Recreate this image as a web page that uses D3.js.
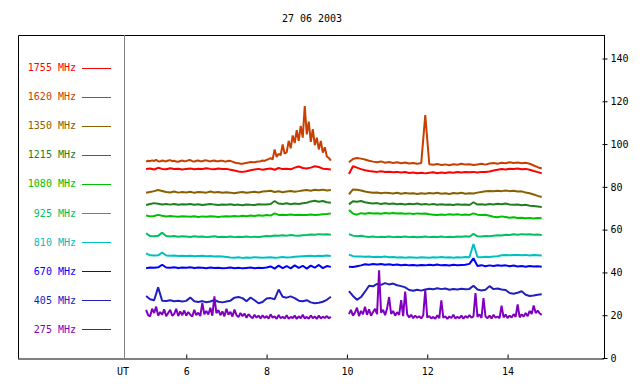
<!DOCTYPE html>
<html><head><meta charset="utf-8">
<script src="https://cdn.jsdelivr.net/npm/d3@7"></script>
<style>
body{margin:0;background:#fff}
svg{display:block}
text{font-family:"DejaVu Sans Mono",monospace;font-size:10px;fill:#000}
</style>
</head><body><svg id="c" width="640" height="384"></svg>
<script>
const title = "27 06 2003";
const seriesNames = ["1755 MHz","1620 MHz","1350 MHz","1215 MHz","1080 MHz","925 MHz","810 MHz","670 MHz","405 MHz","275 MHz"];
const seriesColors = ["#ff0000","#c84000","#886000","#208020","#00c000","#00c060","#00c0c0","#0000ff","#2020c0","#8000c0"];
const xTicks = [6,8,10,12,14];
const yTicks = [0,20,40,60,80,100,120,140];
// observation windows (UT hours); samples are evenly spaced inside each window
const seg1Range = [5.0, 9.6], seg2Range = [10.05, 14.85];

// 1755 MHz
const v1755a = [88.3,88.6,88.1,88.9,88.4,88.2,88.7,88.3,88.5,88.1, 88.4,88.6,88.2,88.5,88.3,88.7,88.4,88.2,88.6,88.3, 88.4,88.0,87.6,87.2,87.0,87.3,87.8,88.1,88.4,88.0, 88.3,88.6,88.0,88.8,88.3,88.5,88.2,89.0,89.5,88.8, 88.6,89.0,89.6,89.3,88.5,88.3,88.1];
const v1755b = [86.0,89.6,89.0,88.3,87.8,87.4,87.2,87.0,87.3,86.9, 87.1,86.8,87.0,86.7,86.9,86.5,86.7,86.4,86.6,86.3, 86.6,86.8,86.4,86.7,86.5,86.8,86.6,86.9,86.7,86.9, 86.8,87.0,86.7,87.0,87.0,87.2,87.6,88.0,88.3,88.1, 88.5,88.3,88.6,88.2,88.4,88.0,87.4,86.9,86.4];
// 1620 MHz
const v1620a = [91.8,92.2,92.0,92.4,92.1,92.6,92.0,91.9,92.3,92.1, 91.9,92.3,92.5,92.0,92.2,91.8,91.7,92.1,92.3,92.0, 92.1,92.4,92.5,92.0,91.8,92.2,92.3,92.0,92.0,92.3, 92.4,92.1,91.9,92.2,92.3,92.0,92.0,92.2,92.2,91.9, 91.9,92.2,92.1,91.8,91.4,91.2,91.0,90.8,90.8,91.0, 91.2,91.4,91.6,91.5,91.5,91.7,91.8,92.0,92.3,92.1, 92.6,93.0,93.4,92.8,97.5,94.0,95.5,94.8,99.8,95.5, 96.2,101.5,98.0,104.0,100.5,106.5,101.5,108.5,103.0,117.8, 104.5,110.5,101.0,107.0,99.5,103.0,97.5,101.5,96.0,98.5, 94.2,93.5,92.3];
const v1620b = [91.5,93.0,93.5,93.2,92.8,92.2,91.8,91.5,91.9,91.3, 91.6,91.2,91.5,91.0,91.4,90.9,91.2,90.8,91.1,113.5, 90.6,90.3,90.7,90.2,90.5,90.1,90.6,90.3,90.8,90.4, 90.6,90.2,90.5,90.8,90.4,90.9,91.2,90.8,91.3,91.0, 91.5,91.2,91.4,91.0,91.3,90.8,90.0,89.2,88.6];
// 1350 MHz
const v1350a = [77.2,77.6,78.0,78.5,78.1,77.6,77.4,77.8,77.3,77.6, 77.4,77.7,77.2,77.6,77.5,77.3,77.8,77.4,77.6,77.2, 77.5,77.3,77.0,77.4,77.6,77.2,77.5,77.7,77.4,77.8, 78.0,78.2,77.6,77.9,77.5,77.8,78.1,77.7,78.0,78.3, 78.5,78.2,78.6,78.4,78.7,78.3,78.5];
const v1350b = [76.5,78.8,78.6,78.3,77.8,77.5,77.2,77.4,77.0,77.3, 77.1,76.9,77.2,76.8,77.1,76.9,77.0,76.7,77.0,76.8, 77.1,76.9,77.2,76.8,77.0,76.7,77.1,76.9,77.2,76.8, 77.0,76.9,77.3,77.6,77.9,78.1,77.9,78.2,78.0,78.3, 78.0,78.2,77.8,77.9,77.4,77.0,76.4,75.8,75.3];
// 1215 MHz
const v1215a = [71.5,72.0,72.4,72.1,71.8,72.0,71.7,72.0,71.6,71.9, 71.8,72.0,71.6,71.9,71.5,71.8,72.0,71.7,71.5,71.8, 71.6,71.9,71.5,71.7,71.4,71.8,71.6,71.5,71.9,71.7, 71.8,72.0,73.4,72.2,72.0,72.3,71.9,72.2,72.0,72.3, 72.6,73.2,73.5,73.0,73.4,72.8,72.6];
const v1215b = [71.8,73.3,73.0,73.4,72.8,72.5,72.2,72.4,72.0,72.3, 72.0,72.2,71.9,72.1,71.8,72.1,71.9,72.2,71.8,72.0, 71.7,72.0,71.6,71.9,71.6,71.8,71.5,71.9,71.6,71.8, 71.5,72.8,71.7,71.9,71.6,72.0,71.8,72.1,71.9,72.2, 71.8,71.6,71.8,71.4,71.6,71.2,71.0,70.8,70.6];
// 1080 MHz
const v1080a = [66.6,66.2,66.4,66.9,66.5,66.1,66.4,66.2,66.0,66.3, 66.2,66.0,66.3,65.9,66.2,66.0,66.3,66.1,65.9,66.2, 66.3,66.1,66.4,66.2,66.5,66.3,66.6,66.4,66.7,66.5, 66.8,66.6,67.6,66.9,67.0,66.8,67.1,66.9,67.0,66.8, 66.9,67.1,66.8,67.0,67.2,67.3,67.6];
const v1080b = [69.2,67.5,67.0,67.7,67.4,67.8,67.5,67.7,67.4,67.8, 67.6,67.8,67.5,67.7,67.4,67.6,67.3,67.6,67.4,67.5, 67.2,67.0,66.8,67.1,66.9,67.2,67.0,67.2,66.9,67.1, 66.9,67.6,67.0,66.8,67.0,66.5,66.0,65.8,66.2,65.9, 65.6,65.8,65.4,65.6,65.3,65.5,65.2,65.4,65.3];
// 925 MHz
const v925a = [58.3,57.0,56.9,57.1,58.6,57.0,56.8,57.0,56.7,56.9, 56.8,56.6,56.9,56.7,56.8,56.5,56.7,56.9,56.6,56.7, 56.6,56.8,56.5,56.7,56.6,56.8,56.5,56.7,56.6,56.8, 57.0,56.9,57.3,57.1,57.4,57.2,57.5,57.3,57.2,57.4, 57.5,57.7,57.6,57.9,57.7,57.8,57.6];
const v925b = [57.9,57.2,56.9,57.1,56.8,56.6,56.8,56.5,56.7,56.6, 56.8,56.5,56.7,56.6,56.8,56.5,56.7,56.4,56.6,56.8, 56.5,56.7,56.6,56.8,56.5,56.7,56.6,56.8,56.7,56.9, 56.7,58.0,56.9,56.8,57.0,56.9,57.2,57.4,57.3,57.6, 57.5,57.8,57.6,57.9,57.7,57.8,57.6,57.7,57.5];
// 810 MHz
const v810a = [48.9,48.0,47.9,48.0,49.3,47.9,47.8,47.9,47.7,47.8, 47.7,47.8,47.6,47.7,47.8,47.6,47.7,47.5,47.6,47.4, 47.2,47.0,46.9,47.1,46.8,47.0,46.9,47.1,47.0,46.9, 47.0,47.1,46.9,47.0,47.2,47.0,47.1,47.3,47.5,47.6, 47.7,47.8,47.6,47.8,47.7,47.9,47.7];
const v810b = [48.3,47.6,47.4,47.5,47.3,47.4,47.2,47.3,47.2,47.4, 47.1,47.2,47.0,47.1,46.9,47.1,47.0,46.9,47.1,47.0, 46.9,47.1,47.0,47.2,47.0,47.1,46.9,47.1,47.0,47.2, 47.1,53.3,47.2,47.1,47.3,47.2,47.4,47.6,48.0,48.1, 48.0,48.2,48.1,48.0,48.2,47.9,48.1,48.0,47.9];
// 670 MHz
const v670a = [42.0,42.3,42.2,42.4,43.6,42.3,42.2,42.4,42.1,42.3, 42.2,42.4,42.1,42.3,42.2,42.0,42.3,42.1,42.2,42.0, 42.1,42.3,42.0,42.2,41.9,42.1,42.3,42.0,42.2,42.1, 42.3,42.8,41.8,43.2,42.0,43.0,41.9,43.3,42.1,43.1, 41.8,43.2,42.2,43.5,42.0,43.0,42.6];
const v670b = [42.7,42.5,42.9,43.3,43.8,43.6,43.9,43.7,43.9,43.6, 43.8,43.5,43.7,43.4,43.6,43.3,43.5,43.2,43.5,43.3, 43.6,43.4,43.7,43.3,43.5,43.2,43.6,43.4,43.5,43.6, 44.0,46.6,43.0,43.4,42.9,43.3,43.0,43.4,43.1,43.3, 42.9,43.2,42.8,43.0,42.7,43.0,42.8,42.9,42.7];
// 405 MHz
const v405a = [29.0,27.5,27.0,33.0,26.8,26.6,27.0,26.5,26.8,26.4, 26.7,28.3,26.5,26.2,26.6,26.1,26.4,27.2,26.3,26.0, 26.4,26.8,28.2,28.5,28.0,26.5,28.3,27.0,25.6,26.2, 27.8,28.0,27.5,32.0,28.6,28.2,28.8,28.0,26.8,26.5, 27.0,26.0,25.6,25.8,26.3,27.2,28.6];
const v405b = [31.3,29.0,27.2,28.5,31.0,33.8,33.5,34.6,34.2,35.0, 34.4,34.8,34.0,33.6,33.0,31.8,31.4,31.9,31.5,32.0, 32.4,32.1,32.6,32.2,32.5,31.9,32.3,32.0,32.4,32.1, 32.3,33.8,32.0,31.6,31.9,33.6,32.2,32.5,32.0,31.8, 30.4,30.0,30.5,31.2,29.6,29.0,29.2,29.6,29.8];
// 275 MHz
const v275a = [22.5,20.0,19.5,23.0,21.0,24.0,19.8,21.5,20.2,22.8, 19.5,21.0,22.5,19.8,20.6,23.0,19.6,21.8,20.0,22.2, 19.8,21.5,20.2,19.4,22.5,20.0,21.2,19.6,25.8,20.4, 22.0,20.3,23.5,19.8,28.8,21.0,22.4,20.0,21.8,19.5, 23.0,20.2,21.6,19.4,22.6,20.0,19.2,21.0,19.6,20.8, 18.8,20.5,19.4,18.6,20.2,18.9,19.8,18.5,20.0,18.7, 19.6,18.4,20.4,18.8,19.5,18.3,20.1,18.6,19.3,18.5, 20.0,18.4,19.2,18.7,19.8,18.3,19.5,18.6,20.2,18.5, 19.2,18.4,19.9,18.6,19.4,18.3,19.8,18.5,19.3,18.7, 19.6,18.6,19.2];
const v275b = [20.5,22.5,19.8,21.2,23.5,19.6,22.0,20.4,24.0,20.2, 22.8,19.8,21.5,23.0,20.5,41.0,21.2,22.5,20.0,23.2, 28.5,20.6,22.0,19.8,21.4,20.2,27.0,19.6,31.0,20.4, 19.0,20.2,18.6,19.8,18.8,19.5,18.5,20.0,31.8,18.9, 19.6,18.5,19.2,18.4,20.0,18.6,27.0,18.8,19.5,18.3, 19.4,18.7,20.2,18.5,19.3,18.6,19.8,18.4,19.6,18.8, 20.0,18.9,19.5,30.4,19.2,20.4,18.7,28.0,19.4,18.6, 19.8,18.5,20.2,18.8,19.4,18.6,24.5,19.0,20.3,18.7, 19.8,18.9,20.5,19.2,25.0,19.0,20.4,19.4,21.0,19.6, 22.0,20.6,24.5,21.0,22.2,20.8,20.2];

const seriesSeg1 = [v1755a,v1620a,v1350a,v1215a,v1080a,v925a,v810a,v670a,v405a,v275a];
const seriesSeg2 = [v1755b,v1620b,v1350b,v1215b,v1080b,v925b,v810b,v670b,v405b,v275b];

const svg = d3.select("#c");
const x = d3.scaleLinear().domain([4.45, 16.4]).range([124, 604]);
const y = d3.scaleLinear().domain([0, 140]).range([358, 58.5]);

// frame
svg.append("path").attr("d","M18.5,358.5 V35.5 H604.5").attr("fill","none").attr("stroke","#000");
svg.append("line").attr("x1",124.5).attr("x2",124.5).attr("y1",35).attr("y2",358)
  .attr("stroke","#808080");

// title
svg.append("text").attr("x",312).attr("y",18).attr("dy","0.35em").attr("text-anchor","middle").text(title);

// bottom axis
const xa = svg.append("g").attr("transform","translate(0,358.5)")
  .call(d3.axisBottom(x).tickValues(xTicks).tickFormat(d3.format("d")).tickSizeInner(-4).tickSizeOuter(0).tickPadding(9));
xa.select(".domain").attr("d","M18,0.5H604");
xa.selectAll(".tick line").attr("stroke","#000");
xa.selectAll("text").attr("font-family",null).attr("font-size",null);
svg.append("text").attr("x",123).attr("y",371).attr("dy","0.35em").attr("text-anchor","middle").text("UT");

// right axis
const ya = svg.append("g").attr("transform","translate(604.5,0)")
  .call(d3.axisRight(y).tickValues(yTicks).tickSize(3).tickPadding(3));
ya.select(".domain").remove();
ya.selectAll(".tick line").attr("x1",-2).attr("stroke","#000");
ya.selectAll("text").attr("font-family",null).attr("font-size",null);
svg.append("line").attr("x1",604.5).attr("x2",604.5).attr("y1",35).attr("y2",358.5).attr("stroke","#000");

// legend
seriesNames.forEach((name,i)=>{
  const ly = 67.5 + i*29.1;
  svg.append("text").attr("x",76).attr("y",ly).attr("dy","0.35em").attr("text-anchor","end")
    .style("fill",seriesColors[i]).text(name);
  svg.append("line").attr("x1",82).attr("x2",111).attr("y1",Math.round(ly)+0.5).attr("y2",Math.round(ly)+0.5)
    .attr("stroke",seriesColors[i]).attr("stroke-width",1);
});

// series
const line = d3.line().x(d=>x(d[0])).y(d=>y(d[1]));
const plot = svg.append("g");
seriesNames.forEach((name,i)=>{
  [[seriesSeg1[i],seg1Range],[seriesSeg2[i],seg2Range]].forEach(([vals,rng])=>{
    const tScale = d3.scaleLinear().domain([0, vals.length-1]).range(rng);
    const pts = vals.map((v,k)=>[tScale(k), v]);
    plot.append("path").attr("d",line(pts)).attr("fill","none")
      .attr("stroke",seriesColors[i]).attr("stroke-width",2).attr("stroke-linejoin","bevel");
  });
});
</script></body></html>
